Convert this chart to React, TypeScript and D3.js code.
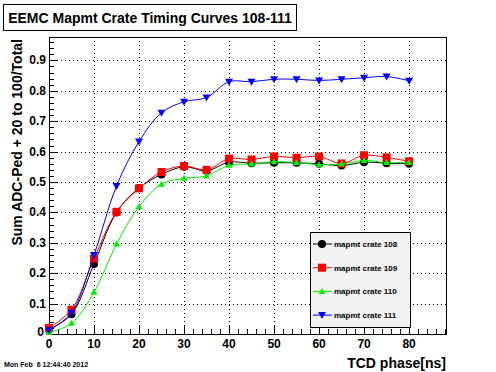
import React, { useEffect, useRef } from 'react';
import * as d3 from 'd3';

const phases = [0, 5, 10, 15, 20, 25, 30, 35, 40, 45, 50, 55, 60, 65, 70, 75, 80];
const crate108 = [0.015, 0.065, 0.23, 0.4, 0.48, 0.525, 0.55, 0.537, 0.565, 0.562, 0.563, 0.563, 0.56, 0.554, 0.565, 0.562, 0.56];
const crate109 = [0.02, 0.08, 0.248, 0.402, 0.479, 0.533, 0.553, 0.54, 0.577, 0.574, 0.584, 0.58, 0.584, 0.561, 0.588, 0.581, 0.568];
const crate110 = [0.005, 0.035, 0.137, 0.296, 0.419, 0.493, 0.512, 0.52, 0.555, 0.559, 0.567, 0.564, 0.557, 0.559, 0.571, 0.564, 0.564];
const crate111 = [0.012, 0.07, 0.26, 0.487, 0.633, 0.728, 0.764, 0.778, 0.83, 0.83, 0.838, 0.838, 0.834, 0.838, 0.843, 0.847, 0.833];

const seriesNames = ['mapmt crate 108', 'mapmt crate 109', 'mapmt crate 110', 'mapmt crate 111'];
const seriesValues = [crate108, crate109, crate110, crate111];
const seriesColors = ['#000000', '#ff0000', '#00ee00', '#0000ff'];
const seriesMarkers = ['circle', 'square', 'triUp', 'triDown'];

const xTicks = [0, 10, 20, 30, 40, 50, 60, 70, 80];
const yTicks = [0, 0.1, 0.2, 0.3, 0.4, 0.5, 0.6, 0.7, 0.8, 0.9];

const FONT = '"Liberation Sans", Arial, Helvetica, sans-serif';

function drawMarker(g: any, kind: string, cx: number, cy: number, color: string) {
  if (kind === 'circle') {
    g.append('circle').attr('cx', cx).attr('cy', cy).attr('r', 4).attr('fill', color);
  } else if (kind === 'square') {
    g.append('rect').attr('x', cx - 4).attr('y', cy - 4).attr('width', 8).attr('height', 8).attr('fill', color);
  } else if (kind === 'triUp') {
    g.append('path').attr('d', `M${cx},${cy - 3.5}L${cx + 3.5},${cy + 2.5}L${cx - 3.5},${cy + 2.5}Z`).attr('fill', color);
  } else {
    g.append('path').attr('d', `M${cx - 4},${cy - 3}L${cx + 4},${cy - 3}L${cx},${cy + 4}Z`).attr('fill', color);
  }
}

const App: React.FC = () => {
  const svgRef = useRef<SVGSVGElement>(null);

  useEffect(() => {
    if (!svgRef.current) return;
    const svg = d3.select(svgRef.current);
    svg.selectAll('*').remove();

    const left = 49, right = 446, top = 37, bottom = 334;

    const x = d3.scaleLinear().domain([0, 88.2]).range([left, right]);
    const y = d3.scaleLinear().domain([0, 0.977]).range([bottom, top]);

    svg.append('rect').attr('width', 496).attr('height', 372).attr('fill', '#ffffff');

    // title box
    svg.append('rect')
      .attr('x', 3.5).attr('y', 4.5).attr('width', 293).attr('height', 26)
      .attr('fill', '#ffffff').attr('stroke', '#000').attr('stroke-width', 1);
    svg.append('text')
      .attr('x', 150).attr('y', 23)
      .attr('text-anchor', 'middle')
      .style('font-family', FONT).style('font-weight', 'bold').style('font-size', '14px')
      .text('EEMC Mapmt Crate Timing Curves 108-111');

    // grid
    const grid = svg.append('g').attr('stroke', '#000').attr('stroke-width', 1).attr('stroke-dasharray', '1,3');
    xTicks.filter(d => d > 0).forEach(d => {
      grid.append('line').attr('x1', Math.round(x(d)) + 0.5).attr('x2', Math.round(x(d)) + 0.5)
        .attr('y1', top).attr('y2', bottom);
    });
    yTicks.filter(d => d > 0).forEach(d => {
      grid.append('line').attr('y1', Math.round(y(d)) + 0.5).attr('y2', Math.round(y(d)) + 0.5)
        .attr('x1', left).attr('x2', right);
    });

    // ticks
    const ticks = svg.append('g').attr('stroke', '#000').attr('stroke-width', 1);
    d3.range(0, 88.2, 2).forEach(d => {
      const major = d % 10 === 0;
      const px = Math.round(x(d)) + 0.5;
      ticks.append('line').attr('x1', px).attr('x2', px).attr('y1', bottom).attr('y2', bottom - (major ? 9 : 5));
    });
    d3.range(0, 0.977, 0.02).forEach(d => {
      const major = Math.abs(Math.round(d * 10) - d * 10) < 1e-6;
      const py = Math.round(y(d)) + 0.5;
      ticks.append('line').attr('y1', py).attr('y2', py).attr('x1', left).attr('x2', left + (major ? 9 : 5));
    });

    // frame
    svg.append('rect')
      .attr('x', left + 0.5).attr('y', top + 0.5).attr('width', right - left).attr('height', bottom - top)
      .attr('fill', 'none').attr('stroke', '#000').attr('stroke-width', 1);

    // tick labels
    svg.append('g').selectAll('text').data(xTicks).enter().append('text')
      .attr('x', d => x(d)).attr('y', 348)
      .attr('text-anchor', 'middle')
      .style('font-family', FONT).style('font-weight', 'bold').style('font-size', '12px')
      .text(d => d);
    svg.append('g').selectAll('text').data(yTicks).enter().append('text')
      .attr('x', d => (d === 0 ? 44 : 46)).attr('y', d => y(d) + (d === 0 ? 2 : 4))
      .attr('text-anchor', 'end')
      .style('font-family', FONT).style('font-weight', 'bold').style('font-size', '12px')
      .text(d => (d === 0 ? '0' : d3.format('.1f')(d)));

    // axis titles
    svg.append('text')
      .attr('x', 446).attr('y', 368)
      .attr('text-anchor', 'end')
      .style('font-family', FONT).style('font-weight', 'bold').style('font-size', '14px')
      .text('TCD phase[ns]');
    svg.append('text')
      .attr('transform', 'translate(22,39) rotate(-90)')
      .attr('text-anchor', 'end')
      .style('font-family', FONT).style('font-weight', 'bold').style('font-size', '14px')
      .text('Sum ADC-Ped + 20 to 100/Total');

    svg.append('text')
      .attr('x', 4).attr('y', 367)
      .style('font-family', FONT).style('font-weight', 'bold').style('font-size', '7px')
      .style('white-space', 'pre')
      .text('Mon Feb  6 12:44:40 2012');

    // series
    const line = d3.line<number>()
      .x((_, i) => x(phases[i]))
      .y(d => y(d))
      .curve(d3.curveCatmullRom.alpha(0.5));

    seriesValues.forEach((vals, si) => {
      const g = svg.append('g');
      g.append('path')
        .datum(vals)
        .attr('d', line)
        .attr('fill', 'none')
        .attr('stroke', seriesColors[si])
        .attr('stroke-width', 1);
      vals.forEach((v, i) => drawMarker(g, seriesMarkers[si], x(phases[i]), y(v), seriesColors[si]));
    });

    // legend
    const lg = svg.append('g');
    lg.append('rect')
      .attr('x', 310.5).attr('y', 232.5).attr('width', 100).attr('height', 95)
      .attr('fill', '#f2f2f2').attr('stroke', '#000').attr('stroke-width', 1);
    seriesNames.forEach((name, i) => {
      const ly = 244 + i * 23.7;
      lg.append('line').attr('x1', 313).attr('x2', 332).attr('y1', ly).attr('y2', ly)
        .attr('stroke', seriesColors[i]).attr('stroke-width', 1);
      drawMarker(lg, seriesMarkers[i], 322, ly, seriesColors[i]);
      lg.append('text')
        .attr('x', 334).attr('y', ly + 3)
        .style('font-family', FONT).style('font-weight', 'bold').style('font-size', '8px')
        .text(name);
    });
  }, []);

  return (
    <svg
      ref={svgRef}
      width="496"
      height="372"
      style={{ position: 'absolute', left: 0, top: 0 }}
    />
  );
};

export default App;
